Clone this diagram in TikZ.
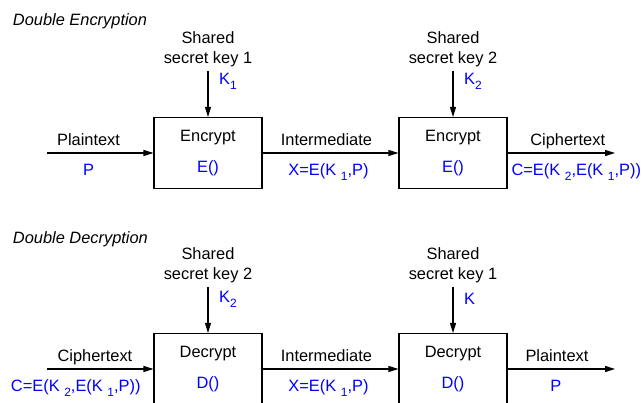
\documentclass[tikz,border=0pt]{standalone}
\usepackage{fontspec}
\setmainfont{Liberation Sans}
\usepackage{xcolor}
\usepackage{tikz}
\usetikzlibrary{arrows.meta,positioning}

\newcommand{\lsub}[1]{\raisebox{-3.6pt}{\fontsize{9}{9}\selectfont#1}}

\begin{document}
\begin{tikzpicture}[
  x=0.75pt, y=-0.75pt,
  >={Triangle[length=7.5pt,width=4.5pt]},
  font=\fontsize{12.3}{14.8}\selectfont,
  % Styles
  blk/.style={draw, line width=0.8pt, minimum width=81pt, minimum height=53.25pt,
              align=center, inner sep=0pt},
  keytxt/.style={align=center, inner sep=3pt},
  ttl/.style={font=\fontsize{12.3}{14.8}\selectfont\itshape, anchor=west, inner sep=0pt},
  lbl/.style={inner sep=0pt},
  val/.style={inner sep=0pt, text=blue},
  flow/.style={->, line width=0.8pt}
]
\useasboundingbox (0,0) rectangle (643,403);

% --- 1. Double Encryption ---
\node[ttl] (enctitle) at (12.7,21.7) {Double Encryption};

\node[keytxt] (key1) at (208,49) {Shared\\secret key 1};
\node[keytxt] (key2) at (453,49) {Shared\\secret key 2};

\node[blk] (enc1) at (208,153) {Encrypt\\[8.4pt]\textcolor{blue}{E()}};
\node[blk] (enc2) at (453,153) {Encrypt\\[8.4pt]\textcolor{blue}{E()}};

\coordinate (in1) at (47,153);
\coordinate (out1) at (615,153);

\draw[flow] (key1) -- node[val, right=8pt, pos=0.23] (k1) {K\lsub{1}} (enc1);
\draw[flow] (key2) -- node[val, right=8pt, pos=0.23] (k2) {K\lsub{2}} (enc2);

\draw[flow] (in1) --
  node[lbl, above=0.5pt, pos=0.39] (pt1) {\strut Plaintext}
  node[val, below=6pt, pos=0.39] (p1) {\strut P} (enc1);
\draw[flow] (enc1) --
  node[lbl, above=0.5pt, pos=0.47] (im1) {\strut Intermediate}
  node[val, below=6pt, pos=0.485] (x1) {\strut X=E(K \lsub{1},P)} (enc2);
\draw[flow] (enc2) --
  node[lbl, above=0.5pt, pos=0.56] (ct1) {\strut Ciphertext}
  node[val, below=6pt, pos=0.64] (c1) {\strut C=E(K \lsub{2},E(K \lsub{1},P))} (out1);

% --- 2. Double Decryption ---
\node[ttl] (dectitle) at (12.7,239) {Double Decryption};

\node[keytxt] (key3) at (208,265.5) {Shared\\secret key 2};
\node[keytxt] (key4) at (453,265.5) {Shared\\secret key 1};

\node[blk] (dec1) at (208,369) {Decrypt\\[8.4pt]\textcolor{blue}{D()}};
\node[blk] (dec2) at (453,369) {Decrypt\\[8.4pt]\textcolor{blue}{D()}};

\coordinate (in2) at (47,369);
\coordinate (out2) at (615,369);

\draw[flow] (key3) -- node[val, right=8pt, pos=0.26] (k3) {K\lsub{2}} (dec1);
\draw[flow] (key4) -- node[val, right=8pt, pos=0.26] (k4) {K} (dec2);

\draw[flow] (in2) --
  node[lbl, above=0.5pt, pos=0.45] (ct2) {\strut Ciphertext}
  node[val, below=6pt, pos=0.27] (c2) {\strut C=E(K \lsub{2},E(K \lsub{1},P))} (dec1);
\draw[flow] (dec1) --
  node[lbl, above=0.5pt, pos=0.47] (im2) {\strut Intermediate}
  node[val, below=6pt, pos=0.485] (x2) {\strut X=E(K \lsub{1},P)} (dec2);
\draw[flow] (dec2) --
  node[lbl, above=0.5pt, pos=0.46] (pt2) {\strut Plaintext}
  node[val, below=6pt, pos=0.45] (p2) {\strut P} (out2);

\end{tikzpicture}
\end{document}
